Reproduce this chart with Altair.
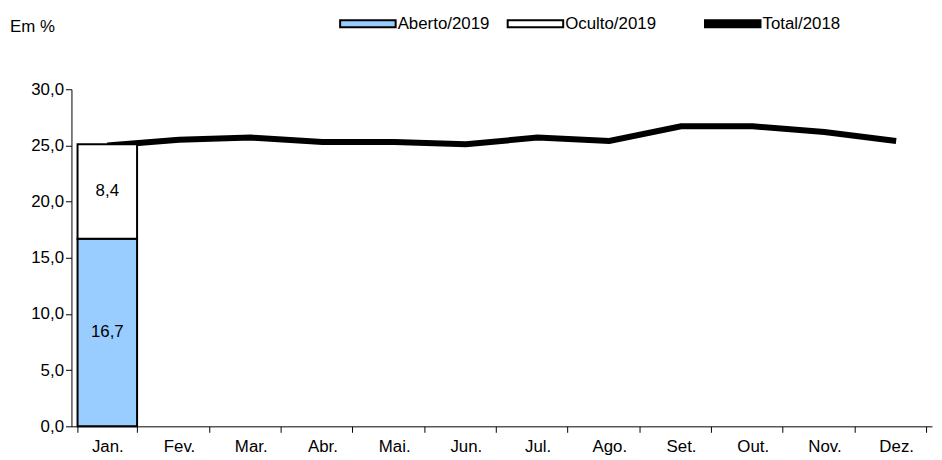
import altair as alt
import pandas as pd

meses = ["Jan.", "Fev.", "Mar.", "Abr.", "Mai.", "Jun.", "Jul.", "Ago.", "Set.", "Out.", "Nov.", "Dez."]
total_2018 = [25.0, 25.5, 25.7, 25.3, 25.3, 25.1, 25.7, 25.4, 26.7, 26.7, 26.2, 25.4]
aberto_2019 = [16.7]
oculto_2019 = [8.4]

font = "Liberation Sans"
fs = 17
line_df = pd.DataFrame({"mes": meses, "valor": total_2018})
bar_df = pd.DataFrame({
    "mes": ["Jan.", "Jan."],
    "tipo": ["Aberto/2019", "Oculto/2019"],
    "y0": [0, aberto_2019[0]],
    "y1": [aberto_2019[0], aberto_2019[0] + oculto_2019[0]],
    "val": [aberto_2019[0], oculto_2019[0]],
})
bar_df["mid"] = (bar_df["y0"] + bar_df["y1"]) / 2
bar_df["lab"] = bar_df["val"].map(lambda v: f"{v:.1f}".replace(".", ","))

x = alt.X("mes:N", sort=meses, title=None,
          scale=alt.Scale(paddingInner=0.17, paddingOuter=0.085),
          axis=alt.Axis(labelAngle=0, tickBand="extent", labelFont=font, labelFontSize=fs,
                        labelPadding=6, labelColor="black", domainColor="black",
                        tickColor="black", tickSize=6))
y_scale = alt.Scale(domain=[0, 30])
y_axis = alt.Axis(values=[0, 5, 10, 15, 20, 25, 30], grid=False, labelFont=font, labelFontSize=fs,
                  labelColor="black", domainColor="black", tickColor="black", tickSize=6,
                  labelExpr="replace(format(datum.value, '.1f'), '.', ',')")

line = alt.Chart(line_df).mark_line(color="black", strokeWidth=6).encode(
    x=x, y=alt.Y("valor:Q", scale=y_scale, axis=y_axis, title=None))

bars = alt.Chart(bar_df).mark_bar(stroke="black", strokeWidth=2).encode(
    x=x, y=alt.Y("y0:Q", scale=y_scale), y2="y1:Q",
    fill=alt.Fill("tipo:N", scale=alt.Scale(domain=["Aberto/2019", "Oculto/2019"],
                                            range=["#99ccff", "white"]), legend=None))
labels = alt.Chart(bar_df).mark_text(font=font, fontSize=fs, color="black").encode(
    x=x, y=alt.Y("mid:Q", scale=y_scale), text="lab:N")

leg_df = pd.DataFrame({"nome": ["Aberto/2019", "Oculto/2019", "Total/2018"],
                       "lx": [299, 468, 667], "fill": ["#99ccff", "white", "black"]})
leg_sw = alt.Chart(leg_df).mark_rect(stroke="black", strokeWidth=2, height=7, width=56).encode(
    x=alt.X("lx:Q", scale=None), y=alt.value(-66),
    fill=alt.Fill("fill:N", scale=None))
leg_tx = alt.Chart(leg_df).transform_calculate(tx="datum.lx + 30").mark_text(
    font=font, fontSize=fs, align="left", baseline="middle", color="black").encode(
    x=alt.X("tx:Q", scale=None), y=alt.value(-66), text="nome:N")
em = alt.Chart(pd.DataFrame({"t": ["Em %"]})).mark_text(
    font=font, fontSize=fs, align="left", baseline="middle", color="black").encode(
    x=alt.value(-62), y=alt.value(-63), text="t:N")

chart = alt.layer(line, bars, labels, leg_sw, leg_tx, em).properties(
    width=868, height=340, autosize="none",
    padding={"left": 64, "top": 80, "right": 2, "bottom": 32},
).configure_view(stroke=None)

chart.save("out.html", embed_options={"renderer": "svg", "actions": False})
